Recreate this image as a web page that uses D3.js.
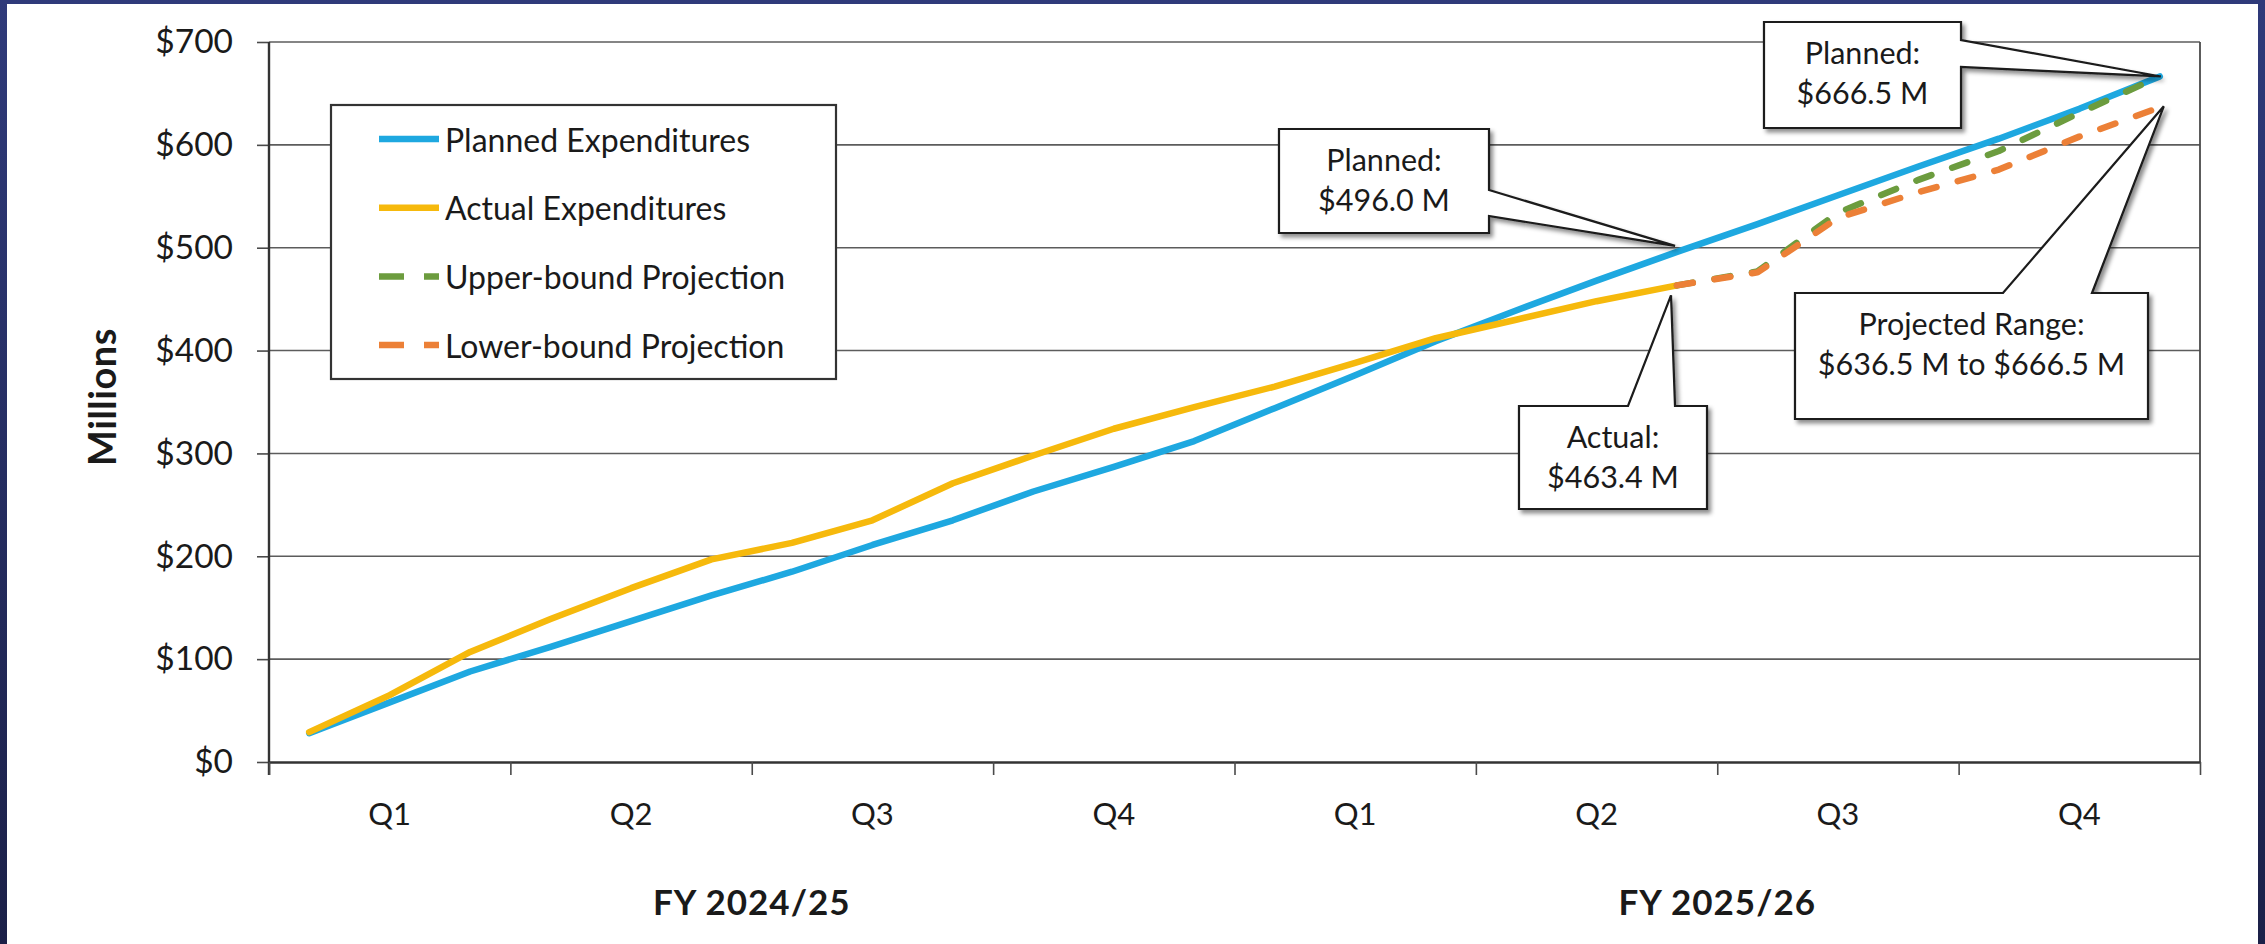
<!DOCTYPE html>
<html><head><meta charset="utf-8">
<script src="https://cdn.jsdelivr.net/npm/d3@7"></script>
<style>
html,body{margin:0;padding:0;background:#fff;}
svg{display:block;}
text{font-family:Lato,"Open Sans","Noto Sans",sans-serif;fill:#1a1a1a;}
</style>
</head><body>
<svg id="chart" width="2265" height="944"></svg>
<script>
// ---------- DATA ----------
const months = ["Jul 2024","Aug 2024","Sep 2024","Oct 2024","Nov 2024","Dec 2024",
  "Jan 2025","Feb 2025","Mar 2025","Apr 2025","May 2025","Jun 2025",
  "Jul 2025","Aug 2025","Sep 2025","Oct 2025","Nov 2025","Dec 2025",
  "Jan 2026","Feb 2026","Mar 2026","Apr 2026","May 2026","Jun 2026"];
const quarterLabels = ["Q1","Q2","Q3","Q4","Q1","Q2","Q3","Q4"];
const fiscalYears = ["FY 2024/25","FY 2025/26"];
const yTicks = [0,100,200,300,400,500,600,700];
const planned = [28,58,88,112,137,162,185,211,235,263,287,312,344,376,409,439,468,496.0,523,551,579,606,635,666.5];
const actual = [29,65,107,139,169,197,213,235,271,298,324,345,365,388,412,430,448,463.4];
const upperProjection = [463.4,477,534,566,594,631,666.5];
const lowerProjection = [463.4,476,529,554,576,608,636.5];
const seriesNames = ["Planned Expenditures","Actual Expenditures","Upper-bound Projection","Lower-bound Projection"];
const calloutTexts = [["Planned:","$496.0 M"],["Planned:","$666.5 M"],["Projected Range:","$636.5 M to $666.5 M"],["Actual:","$463.4 M"]];

// ---------- LAYOUT ----------
const W = 2265, H = 944;
const L = 269, R = 2200, T = 42, B = 762;
const colors = {planned:"#1ea8e0", actual:"#f6b90c", upper:"#6c9c3e", lower:"#ec8037"};
const svg = d3.select("#chart");
const defs = svg.append("defs");
const grad = defs.append("linearGradient").attr("id","navy").attr("x1",0).attr("y1",0).attr("x2",0).attr("y2",1);
grad.append("stop").attr("offset","0").attr("stop-color","#2f3a7a");
grad.append("stop").attr("offset","1").attr("stop-color","#1b2048");
const flt = defs.append("filter").attr("id","shadow").attr("x","-10%").attr("y","-20%").attr("width","130%").attr("height","150%");
flt.append("feDropShadow").attr("dx",3).attr("dy",3.5).attr("stdDeviation",2).attr("flood-color","#000").attr("flood-opacity",0.45);

svg.append("rect").attr("width",W).attr("height",H).attr("fill","url(#navy)");
svg.append("rect").attr("x",7).attr("y",4).attr("width",2251).attr("height",H-4).attr("fill","#fff");

const x = d3.scaleLinear().domain([0, months.length]).range([L, R]);
const y = d3.scaleLinear().domain([0, 700]).range([B, T]);

// gridlines
svg.append("g").selectAll("line").data(yTicks.filter(d=>d>0)).join("line")
  .attr("x1",L).attr("x2",R).attr("y1",d=>y(d)).attr("y2",d=>y(d))
  .attr("stroke","#5c5c5c").attr("stroke-width",1.6);
// right border
svg.append("line").attr("x1",R).attr("x2",R).attr("y1",T).attr("y2",B).attr("stroke","#4a4a4a").attr("stroke-width",1.8);

// y axis
const yAxis = svg.append("g").attr("transform",`translate(${L},0)`)
  .call(d3.axisLeft(y).tickValues(yTicks).tickSize(12).tickSizeOuter(0).tickPadding(24).tickFormat(d=>"$"+d));
yAxis.select(".domain").remove();
yAxis.selectAll(".tick line").attr("stroke","#4a4a4a").attr("stroke-width",1.6);
yAxis.selectAll(".tick text").attr("font-size",33.5).attr("font-family","Lato").attr("fill","#1a1a1a");
svg.append("line").attr("x1",L).attr("x2",L).attr("y1",T).attr("y2",B+13).attr("stroke","#333").attr("stroke-width",2.4);

// x axis
const xAxis = svg.append("g").attr("transform",`translate(0,${B})`)
  .call(d3.axisBottom(x).tickValues(d3.range(0, months.length+1, 3)).tickSize(13).tickSizeOuter(0).tickFormat(""));
xAxis.select(".domain").attr("stroke","#333").attr("stroke-width",2.4);
xAxis.selectAll(".tick line").attr("stroke","#4a4a4a").attr("stroke-width",1.6);

svg.append("g").selectAll("text").data(quarterLabels).join("text")
  .attr("x",(d,i)=>x(i*3+1.5)).attr("y",825).attr("text-anchor","middle")
  .attr("font-size",31).text(d=>d);
svg.append("g").selectAll("text").data(fiscalYears).join("text")
  .attr("x",(d,i)=>x(i*12+6)).attr("y",915).attr("text-anchor","middle")
  .attr("font-size",35).attr("font-weight","bold").attr("letter-spacing",1).text(d=>d);
svg.append("text").attr("transform",`translate(101,${(T+B)/2-5}) rotate(-90)`)
  .attr("text-anchor","middle").attr("dominant-baseline","central")
  .attr("font-size",38).attr("font-weight","bold").attr("letter-spacing",0.5).text("Millions");

// lines
const line = d3.line().x(d=>x(d.i+0.5)).y(d=>y(d.v));
const toPts = (arr, off) => arr.map((v,k)=>({i:k+off, v}));
const projStart = actual.length - 1;
const series = [
  {pts:toPts(planned,0), c:colors.planned, dash:null},
  {pts:toPts(actual,0), c:colors.actual, dash:null},
  {pts:toPts(upperProjection,projStart), c:colors.upper, dash:"16,22"},
  {pts:toPts(lowerProjection,projStart), c:colors.lower, dash:"16,22"}
];
svg.append("g").selectAll("path").data(series).join("path")
  .attr("d",d=>line(d.pts)).attr("fill","none").attr("stroke",d=>d.c)
  .attr("stroke-width",6.5).attr("stroke-linejoin","round").attr("stroke-linecap","round")
  .attr("stroke-dasharray",d=>d.dash);

// legend
const lg = svg.append("g");
lg.append("rect").attr("x",331).attr("y",105).attr("width",505).attr("height",274)
  .attr("fill","#fff").attr("stroke","#333").attr("stroke-width",2.2);
const legendColors = [colors.planned, colors.actual, colors.upper, colors.lower];
seriesNames.forEach((name,k)=>{
  const ry = 139 + k*68.7;
  lg.append("line").attr("x1",379).attr("x2",439).attr("y1",ry).attr("y2",ry)
    .attr("stroke",legendColors[k]).attr("stroke-width",6.5)
    .attr("stroke-dasharray",k>=2?"25,20":null);
  lg.append("text").attr("x",445).attr("y",ry).attr("dominant-baseline","central")
    .attr("font-size",32).text(name);
});

// callouts
const callouts = [
  {text:calloutTexts[0], box:[1279,129,1489,233], side:"right", base:[190,216], tip:[x(17.5)-2, y(planned[17])-6]},
  {text:calloutTexts[1], box:[1764,22,1961,128], side:"right", base:[40,67], tip:[x(23.5)+1, y(planned[23])]},
  {text:calloutTexts[2], box:[1795,293,2148,419], side:"top", base:[2003,2092], tip:[x(23.5)+4, y(lowerProjection[6])-1]},
  {text:calloutTexts[3], box:[1519,406,1707,509], side:"top", base:[1628,1675], tip:[x(17.5)-6, y(actual[17])+10]}
];
const cg = svg.append("g");
callouts.forEach(c=>{
  const [x0,y0,x1,y1] = c.box;
  const p = d3.path();
  p.moveTo(x0,y0);
  if (c.side==="top") {
    p.lineTo(c.base[0],y0); p.lineTo(c.tip[0],c.tip[1]); p.lineTo(c.base[1],y0);
    p.lineTo(x1,y0); p.lineTo(x1,y1);
  } else {
    p.lineTo(x1,y0); p.lineTo(x1,c.base[0]); p.lineTo(c.tip[0],c.tip[1]); p.lineTo(x1,c.base[1]);
    p.lineTo(x1,y1);
  }
  p.lineTo(x0,y1); p.closePath();
  cg.append("path").attr("d",p.toString()).attr("fill","#fff").attr("stroke","#1a1a1a")
    .attr("stroke-width",2.2).attr("stroke-linejoin","miter").attr("filter","url(#shadow)");
  c.text.forEach((t,k)=>{
    cg.append("text").attr("x",(x0+x1)/2).attr("y",y0+41.5+k*40.5).attr("text-anchor","middle")
      .attr("font-size",30.5).text(t);
  });
});
</script>
</body></html>
